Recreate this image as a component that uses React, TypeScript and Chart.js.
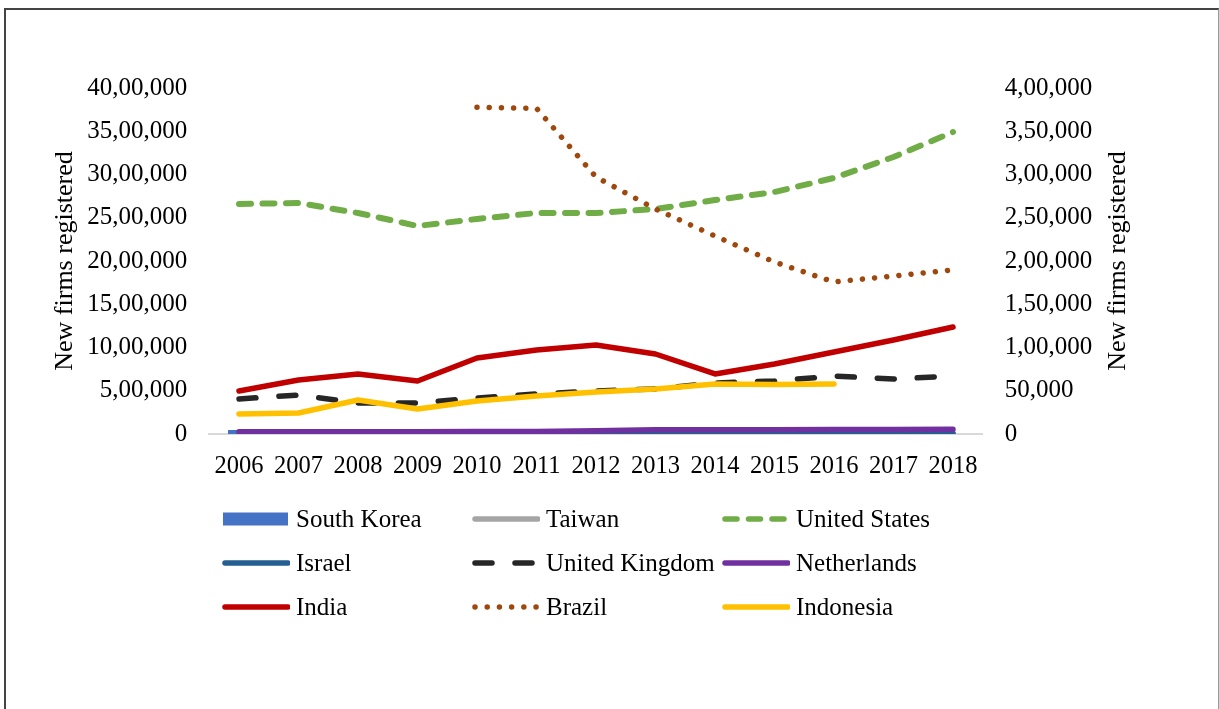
import React, { useEffect, useRef } from "react";
import { Chart, registerables } from "chart.js";

Chart.register(...registerables);

// ---------- data ----------
const years = ["2006", "2007", "2008", "2009", "2010", "2011", "2012", "2013", "2014", "2015", "2016", "2017", "2018"];

// primary (left) axis series
const unitedStates = [2659000, 2671000, 2555000, 2405000, 2486000, 2555000, 2555000, 2601000, 2705000, 2798000, 2960000, 3202000, 3491000];
const unitedKingdom = [404600, 450900, 358400, 358400, 416200, 462400, 497100, 520200, 589600, 612700, 670500, 635800, 670500];
const netherlands = [25000, 25000, 27000, 25000, 28000, 30000, 38000, 50000, 48000, 50000, 52000, 53000, 55000];
const southKorea = [45000, 44000, 42000, 40000, 43000, 45000, 46000, 47000, 48000, 48000, 47000, 46000, null];

// secondary (right) axis series
const taiwan = [300, 300, 280, 270, 300, 310, 320, 330, 330, 340, 340, 350, 350];
const israel = [700, 720, 650, 600, 680, 700, 720, 800, 820, 830, 850, 860, 870];
const india = [49700, 62400, 69400, 61300, 87900, 97100, 102900, 92500, 69400, 80900, 94800, 108700, 123700];
const brazil = [null, null, null, null, 377700, 376500, 297100, 260100, 228900, 198800, 175700, 182700, 189600];
const indonesia = [23100, 24300, 39300, 28900, 38200, 43900, 48600, 52000, 57800, 57200, 57800, null, null];

const leftAxisMax = 4000000;
const leftAxisStep = 500000;
const rightAxisMax = 400000;
const rightAxisStep = 50000;
const axisTitle = "New firms registered";

// ---------- helpers ----------
function formatIndian(v: number): string {
  const s = Math.round(v).toString();
  if (s.length <= 3) return s;
  const last3 = s.slice(-3);
  let rest = s.slice(0, -3);
  const parts: string[] = [];
  while (rest.length > 2) {
    parts.unshift(rest.slice(-2));
    rest = rest.slice(0, -2);
  }
  if (rest) parts.unshift(rest);
  return parts.join(",") + "," + last3;
}

const FONT = "'Times New Roman', 'Liberation Serif', serif";
const TICK_SIZE = 25;
const TITLE_SIZE = 26;
const LEGEND_SIZE = 25;

type Series = {
  label: string;
  data: (number | null)[];
  color: string;
  axis: "y" | "y1";
  kind: "bar" | "line";
  dash?: number[];
  width?: number;
};

const series: Series[] = [
  { label: "South Korea", data: southKorea, color: "#4472C4", axis: "y", kind: "bar" },
  { label: "Taiwan", data: taiwan, color: "#A5A5A5", axis: "y1", kind: "line" },
  { label: "United States", data: unitedStates, color: "#70AD47", axis: "y", kind: "line", dash: [12, 11.5], width: 6 },
  { label: "Israel", data: israel, color: "#255E91", axis: "y1", kind: "line" },
  { label: "United Kingdom", data: unitedKingdom, color: "#262626", axis: "y", kind: "line", dash: [17, 23] },
  { label: "Netherlands", data: netherlands, color: "#7030A0", axis: "y", kind: "line" },
  { label: "India", data: india, color: "#C00000", axis: "y1", kind: "line" },
  { label: "Brazil", data: brazil, color: "#9E480E", axis: "y1", kind: "line", dash: [0.01, 12.2] },
  { label: "Indonesia", data: indonesia, color: "#FFC000", axis: "y1", kind: "line" },
];

const rightTitlePlugin = {
  id: "rightTitle",
  afterDraw(chart: any) {
    const s = chart.scales.y1;
    if (!s) return;
    const ctx = chart.ctx;
    ctx.save();
    ctx.translate(s.right - 101, (chart.chartArea.top + chart.chartArea.bottom) / 2);
    ctx.rotate(-Math.PI / 2);
    ctx.font = `${TITLE_SIZE}px ${FONT}`;
    ctx.fillStyle = "#000";
    ctx.textAlign = "center";
    ctx.textBaseline = "middle";
    ctx.fillText(axisTitle, 0, 0);
    ctx.restore();
  },
};

function LegendSymbol({ s }: { s: Series }) {
  if (s.kind === "bar") {
    return (
      <svg width={68} height={20} style={{ display: "block" }}>
        <rect x={1} y={3.5} width={65} height={13} fill={s.color} />
      </svg>
    );
  }
  return (
    <svg width={68} height={20} style={{ display: "block" }}>
      <line
        x1={3}
        y1={10}
        x2={66}
        y2={10}
        stroke={s.color}
        strokeWidth={5.5}
        strokeLinecap="round"
        strokeDasharray={s.dash ? s.dash.join(" ") : undefined}
      />
    </svg>
  );
}

export default function App() {
  const canvasRef = useRef<HTMLCanvasElement | null>(null);

  useEffect(() => {
    document.documentElement.style.overflow = "hidden";
    const canvas = canvasRef.current;
    if (!canvas) return;
    const datasets: any[] = series.map((s, i) => {
      const base: any = {
        label: s.label,
        data: s.data,
        yAxisID: s.axis,
        order: 100 - i,
      };
      if (s.kind === "bar") {
        return {
          ...base,
          type: "bar",
          backgroundColor: s.color,
          borderWidth: 0,
          barPercentage: 0.37,
          categoryPercentage: 1,
        };
      }
      return {
        ...base,
        type: "line",
        borderColor: s.color,
        backgroundColor: s.color,
        borderWidth: s.width ?? 5.5,
        borderDash: s.dash ?? [],
        borderCapStyle: "round",
        borderJoinStyle: "round",
        pointRadius: 0,
        pointHoverRadius: 0,
        tension: 0,
        fill: false,
        spanGaps: false,
      };
    });

    const chart = new Chart(canvas, {
      type: "line",
      data: { labels: years, datasets },
      plugins: [rightTitlePlugin],
      options: {
        animation: false,
        responsive: false,
        maintainAspectRatio: false,
        layout: { padding: { left: 0, right: 0, top: 88, bottom: 235 } },
        plugins: {
          legend: { display: false },
          tooltip: { enabled: false },
        },
        scales: {
          x: {
            type: "category",
            offset: true,
            grid: { display: false, drawTicks: false },
            border: { display: true, color: "#D9D9D9", width: 2 },
            ticks: {
              color: "#000",
              font: { family: FONT, size: 24.5 },
              padding: 18,
              maxRotation: 0,
              autoSkip: false,
            },
            afterFit: (scale: any) => {
              scale.height = 40;
            },
          },
          y: {
            position: "left",
            min: 0,
            max: leftAxisMax,
            grid: { display: false, drawTicks: false },
            border: { display: false },
            ticks: {
              stepSize: leftAxisStep,
              color: "#000",
              font: { family: FONT, size: TICK_SIZE },
              padding: 22,
              callback: (v: any) => formatIndian(Number(v)),
            },
            title: {
              display: true,
              text: axisTitle,
              color: "#000",
              font: { family: FONT, size: TITLE_SIZE },
              padding: { top: 50, bottom: 0 },
            },
            afterFit: (scale: any) => {
              scale.width = 209.25;
            },
          },
          y1: {
            position: "right",
            min: 0,
            max: rightAxisMax,
            grid: { display: false, drawTicks: false },
            border: { display: false },
            ticks: {
              stepSize: rightAxisStep,
              color: "#000",
              font: { family: FONT, size: TICK_SIZE },
              padding: 22,
              callback: (v: any) => formatIndian(Number(v)),
            },
            afterFit: (scale: any) => {
              scale.width = 1219 - 982.75;
            },
          },
        },
      } as any,
    });
    return () => chart.destroy();
  }, []);

  const rows: Series[][] = [];
  for (let i = 0; i < series.length; i += 3) rows.push(series.slice(i, i + 3));

  return (
    <div style={{ fontFamily: FONT }}>
      <div
        style={{
          position: "absolute",
          left: 4,
          top: 8,
          width: 1212,
          height: 720,
          borderTop: "2px solid #444",
          borderLeft: "2px solid #444",
          borderRight: "1px solid #999",
          background: "#fff",
        }}
      />
      <canvas
        ref={canvasRef}
        width={1219}
        height={709}
        style={{ position: "absolute", left: 0, top: 0, width: 1219, height: 709, display: "block" }}
      />
      <div style={{ position: "absolute", left: 222, top: 497 }}>
        {rows.map((row, ri) => (
          <div key={ri} style={{ display: "flex", height: 44, alignItems: "center" }}>
            {row.map((s) => (
              <div key={s.label} style={{ display: "flex", alignItems: "center", width: 250 }}>
                <LegendSymbol s={s} />
                <span
                  style={{ marginLeft: 6, fontSize: LEGEND_SIZE, lineHeight: "44px", color: "#000", whiteSpace: "nowrap" }}
                >
                  {s.label}
                </span>
              </div>
            ))}
          </div>
        ))}
      </div>
    </div>
  );
}
